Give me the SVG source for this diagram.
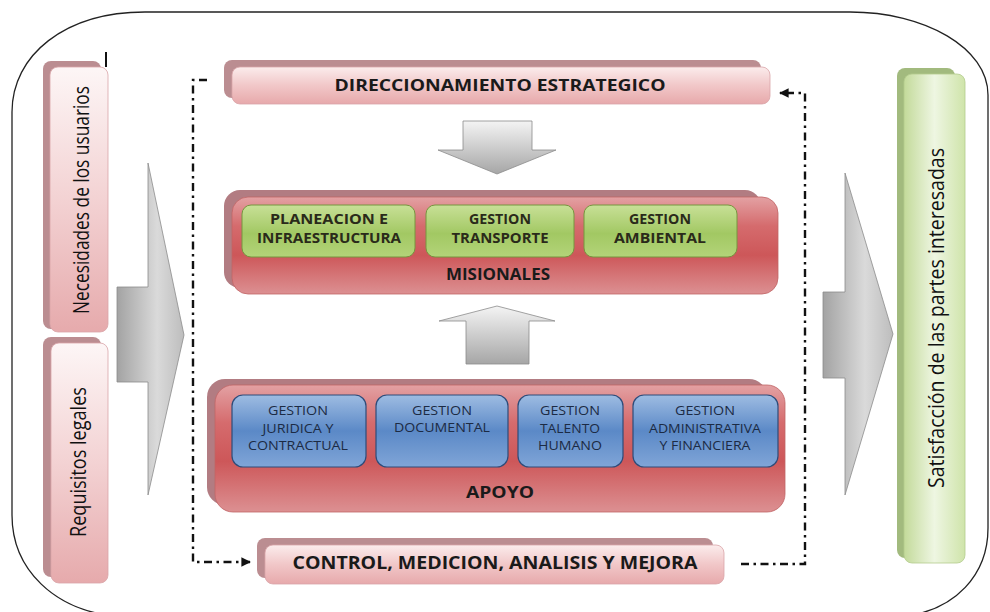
<svg xmlns="http://www.w3.org/2000/svg" width="990" height="612" viewBox="0 0 990 612">
<defs>
<style>
.frame{fill:none;stroke:#222;stroke-width:1.3}
.pinkBack{fill:#bb8d91}
.redBack{fill:#b27c82}
.greenBack{fill:#a2ba7e}
.pinkF{fill:url(#gPink);stroke:#d9a5a8;stroke-width:0.8}
.pinkV{fill:url(#gPinkV);stroke:#d9a5a8;stroke-width:0.8}
.redF{fill:url(#gRed);stroke:#c06466;stroke-width:0.8}
.greenS{fill:url(#gGreen);stroke:#76963f;stroke-width:1}
.blueS{fill:url(#gBlue);stroke:#2e4c7a;stroke-width:1.2}
.greenBig{fill:url(#gGreenBig);stroke:#b4cc8e;stroke-width:0.8}
.garrowH{fill:url(#gGrayH);stroke:#8c8c8c;stroke-width:0.8}
.garrowV{fill:url(#gGrayV);stroke:#8c8c8c;stroke-width:0.8}
.title{font-family:"Open Sans","Liberation Sans",sans-serif;font-weight:bold;fill:#1a1a1a;text-anchor:middle}
.gl{font-family:"Open Sans","Liberation Sans",sans-serif;font-weight:bold;font-size:14px;fill:#2a2a1a;text-anchor:middle}
.bl{font-family:"Open Sans","Liberation Sans",sans-serif;font-size:13px;fill:#1c2b44;text-anchor:middle}
.rot{font-family:"Open Sans","Liberation Sans",sans-serif;font-size:22px;fill:#111;text-anchor:middle}
.conn{fill:none;stroke:#111;stroke-width:2.4;stroke-dasharray:8 4.5 2.5 4.5}
</style>
<linearGradient id="gPink" x1="0" y1="0" x2="0" y2="1">
<stop offset="0" stop-color="#fbecec"/><stop offset="0.5" stop-color="#f1c7c8"/><stop offset="1" stop-color="#e7a9ab"/>
</linearGradient>
<linearGradient id="gPinkV" x1="0" y1="0" x2="0" y2="1">
<stop offset="0" stop-color="#fdf6f6"/><stop offset="0.5" stop-color="#f3d2d3"/><stop offset="1" stop-color="#e6aaac"/>
</linearGradient>
<linearGradient id="gRed" x1="0" y1="0" x2="0" y2="1">
<stop offset="0" stop-color="#e3a1a3"/><stop offset="0.3" stop-color="#d56b6d"/><stop offset="0.6" stop-color="#cd5759"/><stop offset="1" stop-color="#dc9092"/>
</linearGradient>
<linearGradient id="gGreen" x1="0" y1="0" x2="0" y2="1">
<stop offset="0" stop-color="#c8e097"/><stop offset="0.55" stop-color="#a2c863"/><stop offset="1" stop-color="#b3d479"/>
</linearGradient>
<linearGradient id="gBlue" x1="0" y1="0" x2="0" y2="1">
<stop offset="0" stop-color="#9ebce2"/><stop offset="0.5" stop-color="#5b89c7"/><stop offset="1" stop-color="#80a5d7"/>
</linearGradient>
<linearGradient id="gGreenBig" x1="0" y1="0" x2="1" y2="0">
<stop offset="0" stop-color="#c3da9a"/><stop offset="0.5" stop-color="#eef6e2"/><stop offset="1" stop-color="#cfe4aa"/>
</linearGradient>
<linearGradient id="gGrayH" x1="0" y1="0" x2="1" y2="0">
<stop offset="0" stop-color="#a3a3a3"/><stop offset="0.6" stop-color="#dadada"/><stop offset="1" stop-color="#bdbdbd"/>
</linearGradient>
<linearGradient id="gGrayV" x1="0" y1="0" x2="0" y2="1">
<stop offset="0" stop-color="#f4f4f4"/><stop offset="1" stop-color="#a6a6a6"/>
</linearGradient>
<marker id="arr" viewBox="0 0 10 10" refX="9" refY="5" markerWidth="4" markerHeight="4" orient="auto" markerUnits="strokeWidth">
<path d="M0,0 L10,5 L0,10 Z" fill="#111"/>
</marker>
</defs>

<rect width="990" height="612" fill="#ffffff"/>
<path class="frame" d="M 12,112 C 12,55 65,12 145,12 L 850,12 C 925,12 988,48 988,95 L 988,528 C 988,575 955,610 905,616 L 115,616 C 55,610 12,570 12,515 Z"/>

<g id="necesidades">
<rect class="pinkBack" x="43" y="61" width="58" height="268" rx="8"/>
<rect class="pinkV" x="50" y="67" width="58" height="265" rx="8"/>
<text class="rot" transform="translate(89,200) rotate(-90)" textLength="228" lengthAdjust="spacingAndGlyphs">Necesidades de los usuarios</text>
</g>

<g id="requisitos">
<rect class="pinkBack" x="43" y="337" width="58" height="240" rx="8"/>
<rect class="pinkV" x="51" y="343" width="57" height="240" rx="8"/>
<text class="rot" transform="translate(86,462) rotate(-90)" textLength="150" lengthAdjust="spacingAndGlyphs">Requisitos legales</text>
</g>

<g id="arrow-in">
<path class="garrowH" d="M148,163 L184,335 L148,495 L148,382 L117,382 L117,287 L148,287 Z"/>
</g>

<g id="arrow-out">
<path class="garrowH" d="M845,173 L893,334 L845,495 L845,378 L823,378 L823,292 L845,292 Z"/>
</g>

<g id="satisfaccion">
<rect class="greenBack" x="897" y="68" width="58" height="490" rx="8"/>
<rect class="greenBig" x="904" y="74" width="61" height="489" rx="8"/>
<text class="rot" transform="translate(944,318) rotate(-90)" textLength="340" lengthAdjust="spacingAndGlyphs">Satisfacción de las partes interesadas</text>
</g>

<g id="direccionamiento">
<rect class="pinkBack" x="224" y="60" width="537" height="38" rx="8"/>
<rect class="pinkF" x="232" y="67" width="538" height="37" rx="8"/>
<text class="title" x="500" y="91" font-size="15.5" textLength="331" lengthAdjust="spacingAndGlyphs">DIRECCIONAMIENTO ESTRATEGICO</text>
</g>

<g id="arrow-down">
<path class="garrowV" d="M463,121 L532,121 L532,150 L556,150 L497,174 L438,150 L463,150 Z"/>
</g>

<g id="misionales">
<rect class="redBack" x="224" y="190" width="537" height="98" rx="16"/>
<rect class="redF" x="232" y="197" width="546" height="97" rx="16"/>
<text class="title" x="498" y="280" font-size="15.5" textLength="104" lengthAdjust="spacingAndGlyphs">MISIONALES</text>
</g>

<g id="planeacion">
<rect class="greenS" x="242" y="205" width="173" height="52" rx="9"/>
<text class="gl" x="329" y="224" textLength="118" lengthAdjust="spacingAndGlyphs">PLANEACION E</text>
<text class="gl" x="329" y="243" textLength="144" lengthAdjust="spacingAndGlyphs">INFRAESTRUCTURA</text>
</g>

<g id="transporte">
<rect class="greenS" x="426" y="205" width="148" height="52" rx="9"/>
<text class="gl" x="500" y="224" textLength="62" lengthAdjust="spacingAndGlyphs">GESTION</text>
<text class="gl" x="500" y="243" textLength="97" lengthAdjust="spacingAndGlyphs">TRANSPORTE</text>
</g>

<g id="ambiental">
<rect class="greenS" x="584" y="205" width="153" height="52" rx="9"/>
<text class="gl" x="660" y="224" textLength="62" lengthAdjust="spacingAndGlyphs">GESTION</text>
<text class="gl" x="660" y="243" textLength="92" lengthAdjust="spacingAndGlyphs">AMBIENTAL</text>
</g>

<g id="arrow-up">
<path class="garrowV" d="M497,306 L555,321 L529,321 L529,364 L466,364 L466,321 L439,321 Z"/>
</g>

<g id="apoyo">
<rect class="redBack" x="207" y="379" width="560" height="126" rx="18"/>
<rect class="redF" x="215" y="385" width="570" height="127" rx="18"/>
<text class="title" x="500" y="498" font-size="15.5" textLength="68" lengthAdjust="spacingAndGlyphs">APOYO</text>
</g>

<g id="juridica">
<rect class="blueS" x="232" y="395" width="134" height="72" rx="11"/>
<text class="bl" x="298" y="415" textLength="60" lengthAdjust="spacingAndGlyphs">GESTION</text>
<text class="bl" x="298" y="433" textLength="71" lengthAdjust="spacingAndGlyphs">JURIDICA Y</text>
<text class="bl" x="298" y="450" textLength="100" lengthAdjust="spacingAndGlyphs">CONTRACTUAL</text>
</g>

<g id="documental">
<rect class="blueS" x="376" y="395" width="132" height="72" rx="11"/>
<text class="bl" x="442" y="415" textLength="60" lengthAdjust="spacingAndGlyphs">GESTION</text>
<text class="bl" x="442" y="432" textLength="96" lengthAdjust="spacingAndGlyphs">DOCUMENTAL</text>
</g>

<g id="talento">
<rect class="blueS" x="518" y="395" width="105" height="72" rx="11"/>
<text class="bl" x="570" y="415" textLength="60" lengthAdjust="spacingAndGlyphs">GESTION</text>
<text class="bl" x="570" y="433" textLength="60" lengthAdjust="spacingAndGlyphs">TALENTO</text>
<text class="bl" x="570" y="450" textLength="64" lengthAdjust="spacingAndGlyphs">HUMANO</text>
</g>

<g id="administrativa">
<rect class="blueS" x="633" y="395" width="145" height="72" rx="11"/>
<text class="bl" x="705" y="415" textLength="60" lengthAdjust="spacingAndGlyphs">GESTION</text>
<text class="bl" x="705" y="433" textLength="112" lengthAdjust="spacingAndGlyphs">ADMINISTRATIVA</text>
<text class="bl" x="705" y="450" textLength="91" lengthAdjust="spacingAndGlyphs">Y FINANCIERA</text>
</g>

<g id="control">
<rect class="pinkBack" x="257" y="538" width="456" height="40" rx="8"/>
<rect class="pinkF" x="265" y="545" width="459" height="39" rx="8"/>
<text class="title" x="495" y="569" font-size="17" textLength="405" lengthAdjust="spacingAndGlyphs">CONTROL, MEDICION, ANALISIS Y MEJORA</text>
</g>

<g id="connectors">
<path class="conn" d="M207,80 H193 V562 H250" marker-end="url(#arr)"/>
<path class="conn" d="M741,564 H805 V93 H780" marker-end="url(#arr)"/>
<line x1="106" y1="52" x2="106" y2="67" stroke="#111" stroke-width="2"/>
</g>
</svg>
